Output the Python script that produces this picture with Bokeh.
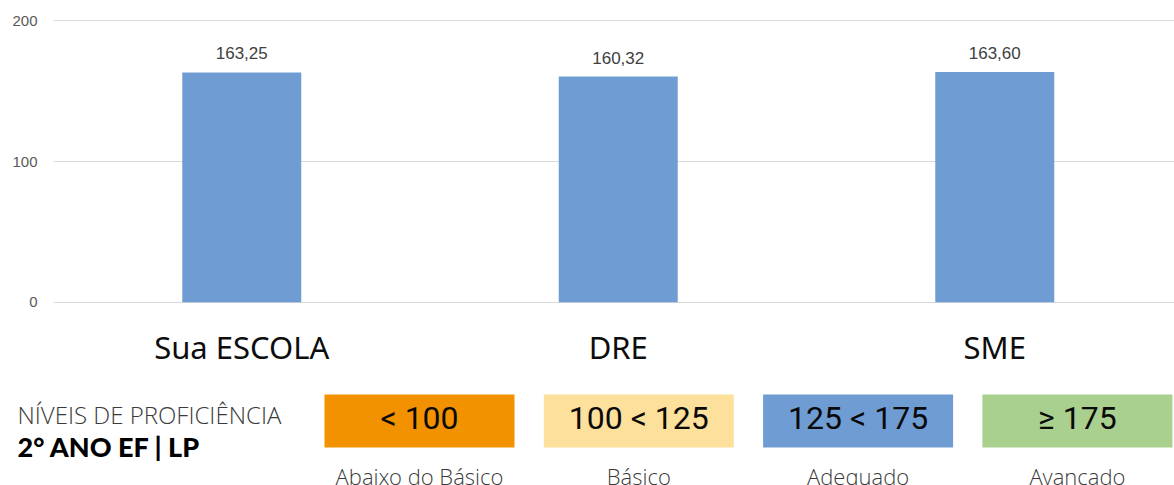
from bokeh.plotting import figure
from bokeh.models import Range1d, FixedTicker, ColumnDataSource
from bokeh.layouts import column
from bokeh.core.properties import value
from bokeh.embed import file_html
from bokeh.resources import INLINE

# ---------------- data ----------------
categories = ["Sua ESCOLA", "DRE", "SME"]
scores = [163.25, 160.32, 163.60]
y_ticks = [0, 100, 200]

level_names = ["Abaixo do Básico", "Básico", "Adequado", "Avançado"]
level_ranges = ["< 100", "100 < 125", "125 < 175", "≥ 175"]
level_colors = ["#F39200", "#FDE09C", "#6F9DD3", "#A9D08E"]

title_line1 = "NÍVEIS DE PROFICIÊNCIA"
title_line2 = "2° ANO EF | LP"

BAR_COLOR = "#6F9DD3"

# ---------------- chart ----------------
W = 1174
H1 = 380
H2 = 105
LEFT = 53
px_per_cat = 376.5
frame_w = W - LEFT
xs = list(range(len(categories)))

p1 = figure(width=W, height=H1, output_backend="svg", toolbar_location=None,
            x_range=Range1d(-0.5, -0.5 + frame_w / px_per_cat),
            y_range=Range1d(-3, 203),
            min_border_left=LEFT, min_border_right=0, min_border_top=16, min_border_bottom=74)
p1.frame_align = False
p1.outline_line_color = None
p1.background_fill_color = "white"
p1.border_fill_color = "white"

src = ColumnDataSource(dict(x=xs, top=scores,
                            lbl=[f"{v:.2f}".replace(".", ",") for v in scores]))
p1.vbar(x="x", top="top", width=119 / px_per_cat, bottom=0, source=src,
        fill_color=BAR_COLOR, line_color=None)
p1.text(x="x", y="top", text="lbl", source=src, text_align="center",
        text_baseline="alphabetic", y_offset=-19,
        text_font=value("Liberation Sans"), text_font_size="17px", text_color="#404040")

yax = p1.yaxis[0]
yax.ticker = FixedTicker(ticks=y_ticks)
yax.axis_line_color = None
yax.major_tick_line_color = None
yax.minor_tick_line_color = None
yax.major_tick_out = 0
yax.major_tick_in = 0
yax.major_label_standoff = 16
yax.major_label_text_font = "Liberation Sans"
yax.major_label_text_font_size = "15px"
yax.major_label_text_color = "#595959"

xax = p1.xaxis[0]
xax.ticker = FixedTicker(ticks=xs)
xax.major_label_overrides = {i: c for i, c in zip(xs, categories)}
xax.axis_line_color = None
xax.major_tick_line_color = None
xax.minor_tick_line_color = None
xax.major_tick_out = 0
xax.major_tick_in = 0
xax.major_label_standoff = 19
xax.major_label_text_font = "Noto Sans"
xax.major_label_text_font_size = "31px"
xax.major_label_text_color = "#0D0D0D"

p1.xgrid.grid_line_color = None
p1.ygrid.ticker = FixedTicker(ticks=y_ticks)
p1.ygrid.grid_line_color = "#D9D9D9"
p1.ygrid.grid_line_width = 1

# ---------------- legend (reference-pixel coordinates) ----------------
p2 = figure(width=W, height=H2, output_backend="svg", toolbar_location=None,
            x_range=Range1d(0, W), y_range=Range1d(380 + H2, 380),
            x_axis_type=None, y_axis_type=None, min_border=0)
p2.frame_align = False
p2.outline_line_color = None
p2.xgrid.grid_line_color = None
p2.ygrid.grid_line_color = None

box_left0, box_step, box_w = 324, 219.3, 190
box_top, box_bot = 394, 447
lefts = [box_left0 + i * box_step for i in range(len(level_names))]
rights = [l + box_w for l in lefts]
centers = [l + box_w / 2 for l in lefts]

p2.quad(left=lefts, right=rights, top=[box_top] * 4, bottom=[box_bot] * 4,
        fill_color=level_colors, line_color=None)
p2.text(x=centers, y=[417.5] * 4, text=level_ranges,
        text_align="center", text_baseline="middle",
        text_font=value("Roboto"), text_font_size="32px", text_color="#0A0A0A")
p2.text(x=centers, y=[475] * 4, text=level_names,
        text_align="center", text_baseline="middle",
        text_font=value("Open Sans Light, Open Sans"), text_font_size="22px", text_color="#3A3A3A")

p2.text(x=[17], y=[414], text=[title_line1], text_align="left", text_baseline="middle",
        text_font=value("Open Sans Light, Open Sans"), text_font_size="24px", text_color="#3A3A3A")
p2.text(x=[17], y=[446], text=[title_line2], text_align="left", text_baseline="middle",
        text_font=value("Lato Black, Open Sans"), text_font_style="bold",
        text_font_size="27px", text_color="#000000")

layout = column(p1, p2)
open("out.html", "w").write(file_html(layout, INLINE))
